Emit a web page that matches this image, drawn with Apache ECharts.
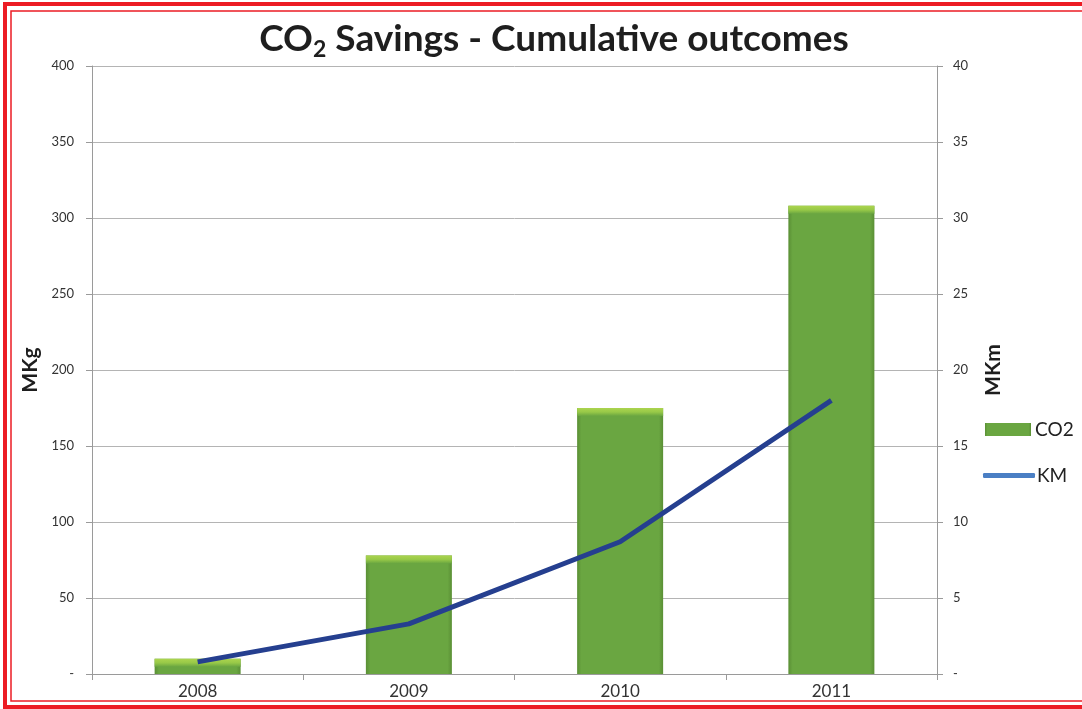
<!DOCTYPE html>
<html><head><meta charset="utf-8">
<script src="https://cdn.jsdelivr.net/npm/echarts@6/dist/echarts.min.js"></script>
<style>html,body{margin:0;padding:0;background:#fff}#c{width:1082px;height:709px}</style>
</head><body><div id="c"></div>
<script>
const years = ['2008','2009','2010','2011'];
const co2 = [10, 78, 175, 308];
const km = [0.8, 3.3, 8.7, 18];
const leftTicks = {min:0, max:400, interval:50};
const rightTicks = {min:0, max:40, interval:5};

const chart = echarts.init(document.getElementById('c'));
const FONT = 'Lato';
const BAR_W = 86;
chart.setOption({
  animation:false,
  title:{
    text:'{a|CO}{s|2}{a| Savings - Cumulative outcomes}',
    left:549, top:13, textAlign:'center',
    textStyle:{rich:{
      a:{fontFamily:FONT,fontWeight:'bold',fontSize:37,color:'#1e1e1e'},
      s:{fontFamily:FONT,fontWeight:'bold',fontSize:23,color:'#1e1e1e',verticalAlign:'bottom',padding:[20,0,0,0]}
    }}
  },
  grid:{left:92,right:145,top:66,bottom:35,containLabel:false},
  legend:[
    {orient:'vertical', left:985, top:420, padding:0, itemWidth:46, itemHeight:13,
     textStyle:{fontFamily:FONT,fontSize:19,color:'#222',padding:[0,0,0,-1]},
     data:[{name:'CO2', icon:'rect'}]},
    {orient:'vertical', left:983, top:466, padding:0, itemWidth:52, itemHeight:5,
     textStyle:{fontFamily:FONT,fontSize:19,color:'#222',padding:[0,0,0,-3]},
     data:[{name:'KM', icon:'roundRect', itemStyle:{color:'#4a7fc4'}}]}
  ],
  xAxis:{
    type:'category', data:years,
    axisLine:{lineStyle:{color:'#9a9a9a'}},
    axisTick:{show:true,length:6,lineStyle:{color:'#9a9a9a'}},
    axisLabel:{fontFamily:FONT,fontSize:17,color:'#333',margin:9}
  },
  yAxis:[
    {type:'value', name:'MKg', nameLocation:'middle', nameGap:46, nameRotate:90,
     nameTextStyle:{fontFamily:FONT,fontWeight:'bold',fontSize:21,color:'#1e1e1e'},
     min:leftTicks.min,max:leftTicks.max,interval:leftTicks.interval,
     axisLine:{show:true,lineStyle:{color:'#9a9a9a'}},
     axisTick:{show:true,length:6,lineStyle:{color:'#9a9a9a'}},
     splitLine:{lineStyle:{color:'#b4b4b4'}},
     axisLabel:{fontFamily:FONT,fontSize:13,color:'#333',margin:18,formatter:v=>v===0?'-':String(v)}},
    {type:'value', name:'MKm', nameLocation:'middle', nameGap:46, nameRotate:90,
     nameTextStyle:{fontFamily:FONT,fontWeight:'bold',fontSize:21,color:'#1e1e1e'},
     min:rightTicks.min,max:rightTicks.max,interval:rightTicks.interval,
     axisLine:{show:true,lineStyle:{color:'#9a9a9a'}},
     axisTick:{show:true,length:6,lineStyle:{color:'#9a9a9a'}},
     splitLine:{show:false},
     axisLabel:{fontFamily:FONT,fontSize:13,color:'#333',margin:16,formatter:v=>v===0?'-':String(v)}}
  ],
  series:[
    {name:'CO2', type:'bar', data:co2, barWidth:BAR_W, yAxisIndex:0,
     itemStyle:{color:new echarts.graphic.LinearGradient(0,0,1,0,[
       {offset:0,color:'#5a8f35'},{offset:0.05,color:'#6aa641'},{offset:0.95,color:'#6aa641'},{offset:1,color:'#5a8f35'}])}},
    {name:'CO2cap', type:'pictorialBar', data:co2, yAxisIndex:0, symbol:'rect',
     symbolSize:[BAR_W,8], symbolPosition:'end', symbolOffset:[0,0], z:3, silent:true,
     itemStyle:{color:new echarts.graphic.LinearGradient(0,0,0,1,[
       {offset:0,color:'#acd44e'},{offset:0.5,color:'#98c948'},{offset:1,color:'#6aa641'}])}},
    {name:'KM', type:'line', data:km, yAxisIndex:1, symbol:'none', z:5,
     lineStyle:{color:'#253f8f',width:5}, itemStyle:{color:'#253f8f'}}
  ],
  graphic:[
    {type:'rect', shape:{x:5,y:4,width:1090,height:703}, style:{fill:'none',stroke:'#ec1c24',lineWidth:4}},
    {type:'rect', shape:{x:11,y:11,width:1080,height:690}, style:{fill:'none',stroke:'#ec1c24',lineWidth:1.5}}
  ]
});
</script></body></html>
